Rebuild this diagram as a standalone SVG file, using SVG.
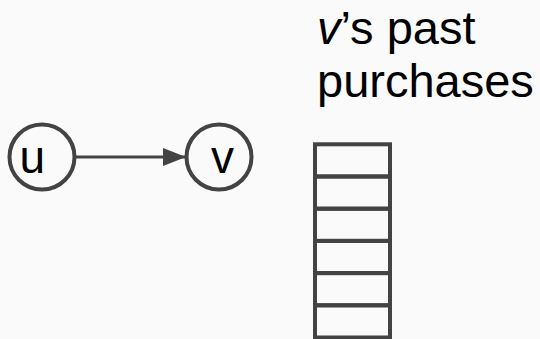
<svg xmlns="http://www.w3.org/2000/svg" width="540" height="339" viewBox="0 0 540 339">
  <style>
    .node { fill: none; stroke: #434343; stroke-width: 4; }
    .label { font-family: "Liberation Sans", Arial, sans-serif; fill: #000000; }
    .edge { stroke: #434343; stroke-width: 3; fill: none; }
    .cell { fill: none; stroke: #434343; stroke-width: 4; }
  </style>
  <defs>
    <marker id="arrowhead" markerUnits="userSpaceOnUse" markerWidth="24" markerHeight="20" refX="23" refY="9" orient="auto">
      <polygon points="0,0 23,9 0,18" fill="#434343"/>
    </marker>
  </defs>
  <rect x="0" y="0" width="540" height="339" fill="#fafafa"/>

  <!-- connectors -->
  <g id="edges">
    <line class="edge" x1="76" y1="157" x2="186" y2="157" marker-end="url(#arrowhead)"/>
  </g>

  <!-- node u -->
  <g id="node-u">
    <circle class="node" cx="42" cy="157" r="32.5"/>
    <text class="label" x="19.5" y="172.5" font-size="46">u</text>
  </g>

  <!-- node v -->
  <g id="node-v">
    <circle class="node" cx="219" cy="157" r="32.5"/>
    <text class="label" x="211" y="172.5" font-size="46">v</text>
  </g>

  <!-- caption -->
  <g id="caption">
    <text class="label" x="317" y="44" font-size="47"><tspan font-style="italic">v</tspan>’s past</text>
    <text class="label" x="317" y="97" font-size="47">purchases</text>
  </g>

  <!-- stack of six purchase slots -->
  <g id="purchase-stack">
    <rect class="cell" x="315" y="144.3" width="75" height="32.2"/>
    <rect class="cell" x="315" y="176.5" width="75" height="32.2"/>
    <rect class="cell" x="315" y="208.7" width="75" height="32.2"/>
    <rect class="cell" x="315" y="240.9" width="75" height="32.2"/>
    <rect class="cell" x="315" y="273.1" width="75" height="32.2"/>
    <rect class="cell" x="315" y="305.3" width="75" height="32.2"/>
  </g>
</svg>
